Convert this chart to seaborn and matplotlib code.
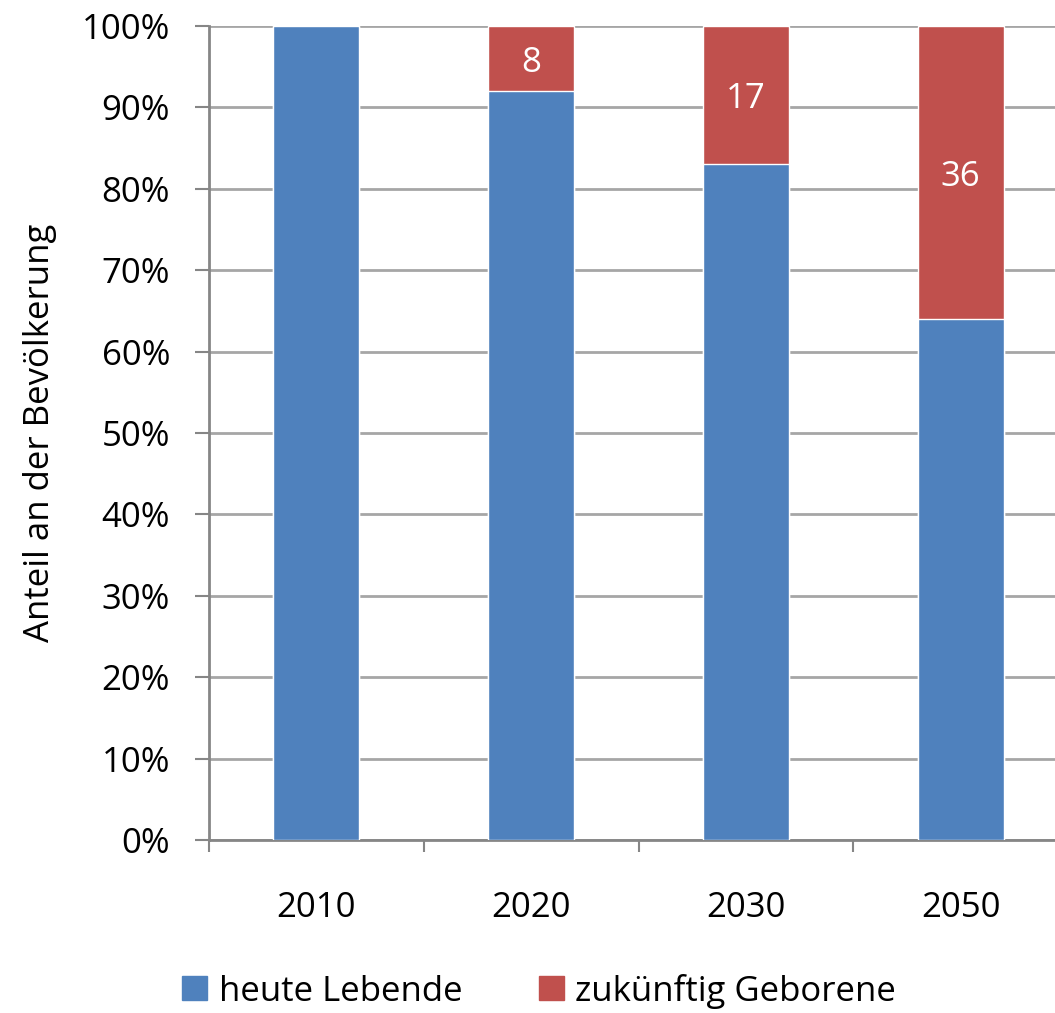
import matplotlib
matplotlib.use("Agg")
import matplotlib.pyplot as plt
import seaborn as sns
import pandas as pd
from matplotlib.patches import Patch
from matplotlib.ticker import FixedLocator

years = ["2010", "2020", "2030", "2050"]
heute_lebende = [100, 92, 83, 64]
zukuenftig_geborene = [0, 8, 17, 36]
y_ticks = list(range(0, 101, 10))

BLUE = "#4F81BD"
RED = "#C0504D"
FS = 25

sns.set_theme(style="white")
plt.rcParams["font.family"] = ["Open Sans", "DejaVu Sans"]
plt.rcParams["text.color"] = "black"
plt.rcParams["axes.labelcolor"] = "black"
plt.rcParams["xtick.labelcolor"] = "black"
plt.rcParams["ytick.labelcolor"] = "black"

df = pd.DataFrame({
    "Jahr": years,
    "heute": heute_lebende,
    "zukunft": zukuenftig_geborene,
})
df["gesamt"] = df["heute"] + df["zukunft"]

fig = plt.figure(figsize=(10.55, 10.13), dpi=100)
ax = fig.add_axes([209 / 1055, 1 - 840 / 1013, 859 / 1055, 814 / 1013])

# stacked bars: full height in red, living population drawn over it in blue
sns.barplot(data=df, x="Jahr", y="gesamt", color=RED, width=0.40,
            saturation=1, ax=ax, zorder=2)
sns.barplot(data=df, x="Jahr", y="heute", color=BLUE, width=0.40,
            saturation=1, ax=ax, zorder=3)

for i, (h, z) in enumerate(zip(heute_lebende, zukuenftig_geborene)):
    if z > 0:
        ax.text(i, h + z / 2, f"{z}", ha="center", va="center_baseline",
                color="white", fontsize=FS, zorder=4)

ax.set_xlim(-0.5, 3.5)
ax.set_ylim(0, 100)
ax.set_yticks(y_ticks)
ax.set_yticklabels([f"{t}%" for t in y_ticks], fontsize=FS)
ax.set_xticks(range(len(years)))
ax.set_xticklabels(years, fontsize=FS)
ax.tick_params(axis="x", length=0, pad=37, labelcolor="black")
ax.xaxis.set_minor_locator(FixedLocator([-0.5, 0.5, 1.5, 2.5, 3.5]))
ax.tick_params(axis="x", which="minor", length=8.5, width=1.5,
               color="#868686", direction="out", bottom=True)
ax.tick_params(axis="y", length=10, width=1.5, color="#868686",
               direction="out", left=True, pad=18, labelcolor="black")

ax.yaxis.grid(True, color="#a6a6a6", linewidth=2, zorder=0)
ax.set_axisbelow(True)
for side in ["top", "right"]:
    ax.spines[side].set_visible(False)
for side in ["left", "bottom"]:
    ax.spines[side].set_color("#868686")
    ax.spines[side].set_linewidth(2)

ax.set_xlabel("")
ax.set_ylabel("Anteil an der Bevölkerung", fontsize=FS, color="black")
ax.yaxis.set_label_coords((57 - 209) / 859, 0.5)

handles = [Patch(color=BLUE, label="heute Lebende"),
           Patch(color=RED, label="zukünftig Geborene")]
fig.legend(handles=handles, loc="center", bbox_to_anchor=(539 / 1055, 1 - 991 / 1013),
           ncol=2, frameon=False, fontsize=FS, handlelength=0.72,
           handleheight=0.69, handletextpad=0.32, columnspacing=2.2,
           borderpad=0, borderaxespad=0, labelcolor="black")

fig.savefig("out.png", dpi=100)
